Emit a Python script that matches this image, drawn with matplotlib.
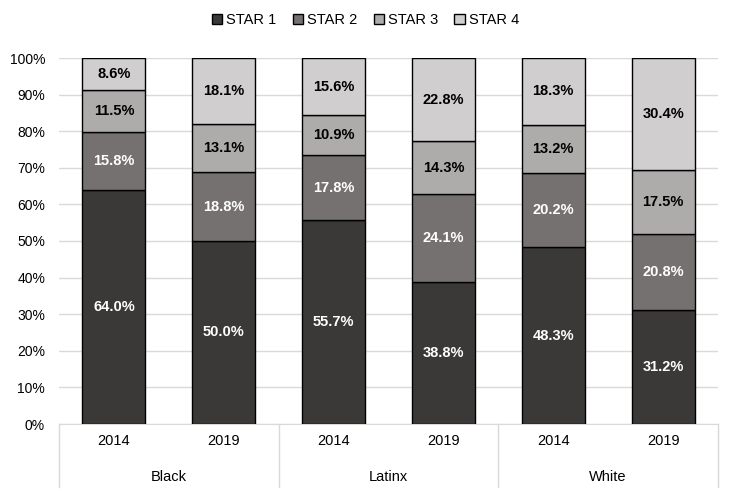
import numpy as np
import matplotlib.pyplot as plt
from matplotlib.patches import Patch

plt.rcParams['font.family'] = ['Liberation Sans', 'DejaVu Sans']

groups = ["Black", "Latinx", "White"]
years = ["2014", "2019"]
series = ["STAR 1", "STAR 2", "STAR 3", "STAR 4"]
star1 = [64.0, 50.0, 55.7, 38.8, 48.3, 31.2]
star2 = [15.8, 18.8, 17.8, 24.1, 20.2, 20.8]
star3 = [11.5, 13.1, 10.9, 14.3, 13.2, 17.5]
star4 = [8.6, 18.1, 15.6, 22.8, 18.3, 30.4]
colors = ["#3b3838", "#767171", "#aeabab", "#d0cece"]
text_colors = ["white", "white", "black", "black"]

fig = plt.figure(figsize=(7.31, 4.93), dpi=100)
ax = fig.add_axes([59 / 731, 1 - 424 / 493, 659 / 731, 366 / 493])

x = np.arange(6)
vals = [star1, star2, star3, star4]
bottom = np.zeros(6)
for s, v, c, tc in zip(series, vals, colors, text_colors):
    v = np.array(v)
    ax.bar(x, v, 0.575, bottom=bottom, color=c, edgecolor="black", linewidth=1, label=s, zorder=3)
    for xi, b, h in zip(x, bottom, v):
        ax.text(xi, b + h / 2, f"{h:.1f}%", ha="center", va="center", color=tc,
                fontsize=10.5, fontweight="bold", zorder=4)
    bottom += v

ax.set_xlim(-0.5, 5.5)
ax.set_ylim(0, 100)
ax.set_yticks(np.arange(0, 101, 10))
ax.set_yticklabels([f"{t}%" for t in range(0, 101, 10)], fontsize=10)
ax.yaxis.grid(True, color="#d9d9d9", linewidth=1, zorder=0)
ax.tick_params(axis="y", length=0, pad=10)
ax.set_xticks([])
for sp in ["top", "right", "left"]:
    ax.spines[sp].set_visible(False)
ax.spines["bottom"].set_color("#d9d9d9")

# two-level category axis
trans = ax.get_xaxis_transform()
for xb in [-0.5, 1.5, 3.5, 5.5]:
    ax.plot([xb, xb], [0, -0.172], transform=trans, color="#d9d9d9", lw=1, clip_on=False)
for xi in x:
    ax.text(xi, -0.046, years[xi % 2], transform=trans, ha="center", va="center", fontsize=10.5)
for gi, g in enumerate(groups):
    ax.text(gi * 2 + 0.5, -0.145, g, transform=trans, ha="center", va="center", fontsize=10.5)

handles = [Patch(facecolor=c, edgecolor="black", label=s) for s, c in zip(series, colors)]
fig.legend(handles=handles, loc="center", bbox_to_anchor=(0.5, 1 - 20 / 493), ncol=4,
           frameon=False, fontsize=10.5, handlelength=0.7, handleheight=0.7,
           handletextpad=0.3, columnspacing=1.1)

fig.savefig("out.png", dpi=100)
